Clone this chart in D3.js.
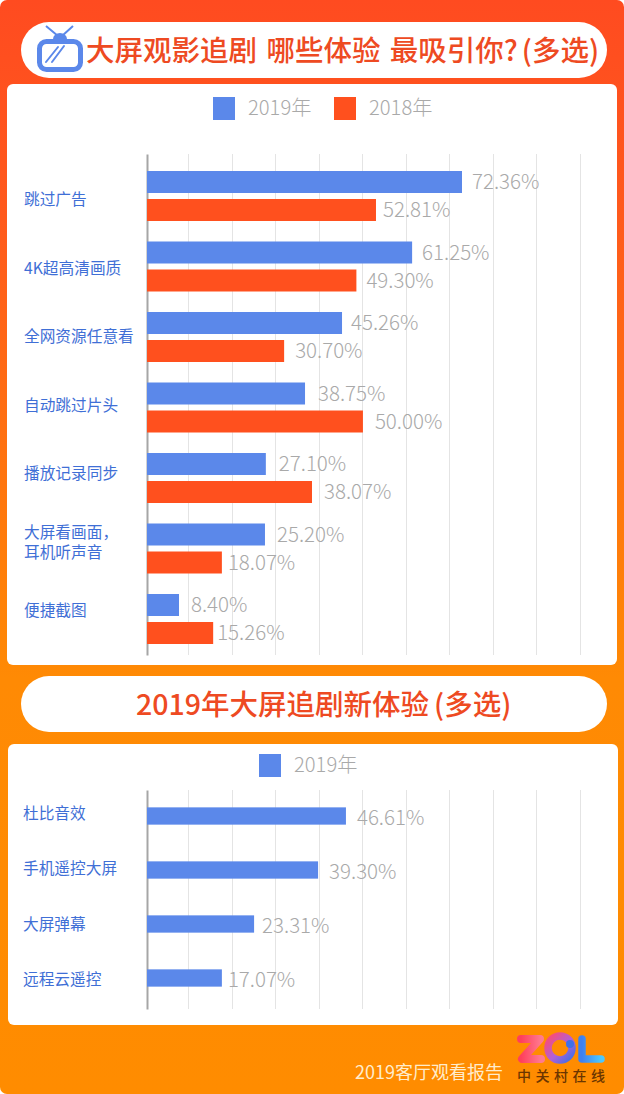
<!DOCTYPE html>
<meta charset="utf-8">
<style>
  html, body { margin: 0; padding: 0; background: #fff; }
  svg { display: block; }
  text { font-family: "Noto Sans CJK SC", "Noto Sans", sans-serif; }
</style>
<script src="https://d3js.org/d3.v7.min.js"></script>
<div id="my_dataviz"></div>
<script>

// dados
var categorias1 = ["跳过广告", "4K超高清画质", "全网资源任意看", "自动跳过片头", "播放记录同步", ["大屏看画面，", "耳机听声音"], "便捷截图"];
var barras2019 = [72.36, 60.9, 44.8, 36.3, 27.3, 27.1, 7.35];
var barras2018 = [52.6, 48.1, 31.5, 49.6, 37.9, 17.2, 15.2];
var rotulos2019 = ["72.36%", "61.25%", "45.26%", "38.75%", "27.10%", "25.20%", "8.40%"];
var rotulos2018 = ["52.81%", "49.30%", "30.70%", "50.00%", "38.07%", "18.07%", "15.26%"];

var categorias2 = ["杜比音效", "手机遥控大屏", "大屏弹幕", "远程云遥控"];
var barrasNovo = [45.7, 39.3, 24.6, 17.2];
var rotulosNovo = ["46.61%", "39.30%", "23.31%", "17.07%"];

var gradeTicks = [10, 20, 30, 40, 50, 60, 70, 80, 90, 100];

// ajustes de layout
var width = 624, height = 1094;
var azul = "#5b88ea", laranja = "#ff501e", cinza = "#a9a9a9", azulTexto = "#3f6fd6";

var svg = d3.select("#my_dataviz")
  .append("svg")
  .attr("width", width)
  .attr("height", height);

var defs = svg.append("defs");

var fundo = defs.append("linearGradient").attr("id", "fundo")
  .attr("x1", 0).attr("y1", 0).attr("x2", 0).attr("y2", 1);
fundo.append("stop").attr("offset", "0").attr("stop-color", "#ff4b20");
fundo.append("stop").attr("offset", "0.2").attr("stop-color", "#ff5a1c");
fundo.append("stop").attr("offset", "0.62").attr("stop-color", "#ff8a04");
fundo.append("stop").attr("offset", "1").attr("stop-color", "#ff8c00");

var gradZ = defs.append("linearGradient").attr("id", "gradZ");
gradZ.append("stop").attr("offset", "0").attr("stop-color", "#ff3f5c");
gradZ.append("stop").attr("offset", "1").attr("stop-color", "#ff7a90");
var gradO = defs.append("linearGradient").attr("id", "gradO")
  .attr("x1", 0).attr("y1", 0).attr("x2", 1).attr("y2", 1);
gradO.append("stop").attr("offset", "0").attr("stop-color", "#ff4a70");
gradO.append("stop").attr("offset", "0.55").attr("stop-color", "#b060d8");
gradO.append("stop").attr("offset", "1").attr("stop-color", "#3f70e8");
var gradL = defs.append("linearGradient").attr("id", "gradL");
gradL.append("stop").attr("offset", "0").attr("stop-color", "#3f80f0");
gradL.append("stop").attr("offset", "1").attr("stop-color", "#4cc8ff");

// fundo
svg.append("rect").attr("width", width).attr("height", height).attr("rx", 7).attr("fill", "url(#fundo)");

// titulos
function pilula(y) {
  svg.append("rect").attr("x", 21).attr("y", y).attr("width", 586).attr("height", 56).attr("rx", 28).attr("fill", "#fff");
}
pilula(22);
pilula(676);

function painel(x, y, w, h) {
  svg.append("rect").attr("x", x).attr("y", y).attr("width", w).attr("height", h).attr("rx", 6).attr("fill", "#fff");
}
painel(7, 84, 610, 581);
painel(8, 744, 610, 281);

var titulo1 = svg.append("text").attr("x", 86).attr("y", 61)
  .attr("fill", "#ee4a22").style("font-size", "28.5px").style("word-spacing", "3px").style("font-weight", 500);
titulo1.append("tspan").text("大屏观影追剧 哪些体验 最吸引你?");
titulo1.append("tspan").attr("dx", 4).text("(多选)");

var titulo2 = svg.append("text").attr("x", 136).attr("y", 715)
  .attr("fill", "#ee4a22").style("font-size", "28.5px").style("font-weight", 500);
titulo2.append("tspan").text("2019年大屏追剧新体验");
titulo2.append("tspan").attr("dx", 5).text("(多选)");

// icone da TV
var tv = svg.append("g").attr("fill", "none").attr("stroke", azul);
tv.append("rect").attr("x", 39.5).attr("y", 41.5).attr("width", 41).attr("height", 28).attr("rx", 7).attr("stroke-width", 5);
tv.append("path").attr("d", "M46,26 L58,36 M73,26 L62,36").attr("stroke-width", 2);
tv.append("path").attr("d", "M53,39 a7,6 0 0 1 14,0 z").attr("fill", azul).attr("stroke", "none");
tv.append("path").attr("d", "M46,62 L58,47 M52,62 L64,46").attr("stroke-width", 2).attr("stroke-linecap", "round");

// escalas - os riscos da grade nao coincidem bem com o zero das barras
var x = d3.scaleLinear().domain([0, 72.36]).range([147, 462]);
var xGrade = d3.scaleLinear().domain([10, 100]).range([188.2, 580]);

function desenhaGrafico(cfg) {
  var g = svg.append("g");

  g.selectAll("line.grade")
    .data(gradeTicks)
    .join("line")
    .attr("class", "grade")
    .attr("x1", function(d) { return Math.round(xGrade(d)) + 0.5; })
    .attr("x2", function(d) { return Math.round(xGrade(d)) + 0.5; })
    .attr("y1", cfg.topo)
    .attr("y2", cfg.base)
    .attr("stroke", "#e4e4e4");

  // eixo - fica por baixo das barras
  g.append("g")
    .attr("transform", "translate(" + x(0) + ",0)")
    .call(d3.axisLeft(d3.scaleLinear().range([cfg.topo, cfg.base])).ticks(0).tickSize(0))
    .call(function(a) { a.select(".domain").attr("stroke", "#a6a6a6").attr("stroke-width", 2); });

  var y = d3.scaleBand().domain(d3.range(cfg.categorias.length)).range(cfg.faixa);
  var yLabel = d3.scalePoint().domain(d3.range(cfg.categorias.length)).range(cfg.faixaLabel);
  var ySerie = d3.scaleBand().domain(d3.range(cfg.series.length)).range([0, cfg.series.length * 28 - 6]).paddingInner(6 / 28);

  cfg.series.forEach(function(s, k) {
    var deslocY = (y.bandwidth() - ySerie.range()[1]) / 2 + ySerie(k);

    g.selectAll("rect.s" + k)
      .data(s.valores)
      .join("rect")
      .attr("class", "s" + k)
      .attr("x", x(0))
      .attr("y", function(d, i) { return y(i) + deslocY; })
      .attr("width", function(d) { return x(d) - x(0); })
      .attr("height", ySerie.bandwidth())
      .attr("fill", s.cor);

    g.selectAll("text.s" + k)
      .data(s.valores)
      .join("text")
      .attr("class", "s" + k)
      .attr("x", function(d, i) { return x(d) + s.dx[i]; })
      .attr("y", function(d, i) { return y(i) + deslocY + 18; })
      .text(function(d, i) { return s.rotulos[i]; })
      .attr("fill", cinza)
      .style("font-size", "20.5px")
      .style("font-weight", 300);
  });

  // categorias - uma linha ou duas
  cfg.categorias.forEach(function(c, i) {
    var linhas = Array.isArray(c) ? c : [c];
    var t = g.append("text")
      .attr("fill", azulTexto)
      .style("font-size", "15.7px");
    linhas.forEach(function(l, j) {
      t.append("tspan")
        .attr("x", cfg.xLabel)
        .attr("y", yLabel(i) + 6 + (j - (linhas.length - 1) / 2) * 20)
        .text(l);
    });
  });
}

desenhaGrafico({
  categorias: categorias1,
  topo: 154, base: 655,
  faixa: [160.75, 654.25],
  faixaLabel: [199, 610],
  xLabel: 24,
  series: [
    {valores: barras2019, rotulos: rotulos2019, cor: azul, dx: [10, 10, 9, 13, 13, 12, 12]},
    {valores: barras2018, rotulos: rotulos2018, cor: laranja, dx: [7, 10, 11, 12, 12, 6, 4]}
  ]
});

desenhaGrafico({
  categorias: categorias2,
  topo: 790, base: 1009,
  faixa: [789, 1005],
  faixaLabel: [813, 979],
  xLabel: 23,
  series: [
    {valores: barrasNovo, rotulos: rotulosNovo, cor: azul, dx: [11, 11, 8, 6]}
  ]
});

// legendas
function legenda(xq, y, cor, t) {
  svg.append("rect").attr("x", xq).attr("y", y).attr("width", 22).attr("height", 23).attr("fill", cor);
  svg.append("text").attr("x", xq + 35).attr("y", y + 18).text(t).attr("fill", cinza)
    .style("font-size", "20.2px").style("font-weight", 300);
}
legenda(213, 97, azul, "2019年");
legenda(334, 97, laranja, "2018年");
legenda(259, 754, azul, "2019年");

// rodape
svg.append("text").attr("x", 355).attr("y", 1079).text("2019客厅观看报告")
  .attr("fill", "#ffeccc").style("font-size", "18px");

// logo ZOL
var logo = svg.append("g");
logo.append("path").attr("d", "M521,1039 H540 L522,1059 H541").attr("fill", "none")
  .attr("stroke", "url(#gradZ)").attr("stroke-width", 8).attr("stroke-linecap", "round").attr("stroke-linejoin", "round");
logo.append("circle").attr("cx", 560).attr("cy", 1048).attr("r", 12).attr("fill", "none")
  .attr("stroke", "url(#gradO)").attr("stroke-width", 7.5);
logo.append("circle").attr("cx", 570).attr("cy", 1044).attr("r", 4).attr("fill", "#3f70e8");
logo.append("path").attr("d", "M582,1039 V1059 H601").attr("fill", "none")
  .attr("stroke", "url(#gradL)").attr("stroke-width", 7.5).attr("stroke-linecap", "round").attr("stroke-linejoin", "round");
logo.append("text").attr("x", 517).attr("y", 1081).text("中关村在线")
  .attr("fill", "#6b3500").style("font-size", "14px").style("letter-spacing", "4.5px").style("font-weight", 500);

</script>
